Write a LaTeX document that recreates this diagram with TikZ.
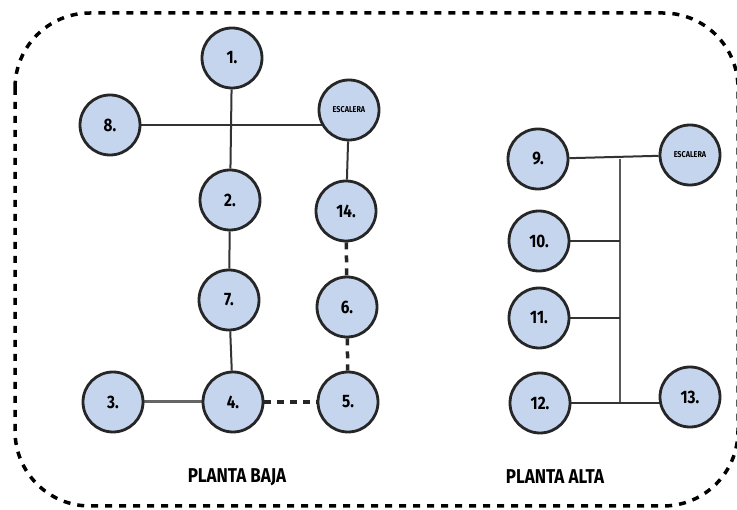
\documentclass[tikz,border=0pt]{standalone}
\usepackage{fontspec}
\setmainfont{Fira Sans}[FakeStretch=0.85]
\usetikzlibrary{backgrounds}
\definecolor{roomblue}{RGB}{197,213,238}

\begin{document}
\begin{tikzpicture}[x=1pt,y=-1pt,
  room/.style={circle,draw=black!85,line width=2.8pt,fill=roomblue,
    minimum size=60pt,inner sep=0pt,font=\fontsize{18}{18}\selectfont\bfseries},
  stair/.style={room,font=\fontsize{8.5}{8.5}\selectfont\bfseries},
  link/.style={draw=black!80,line width=2pt},
  dlink/.style={draw=black!85,line width=3.5pt,dash pattern=on 7pt off 6pt},
  title/.style={font=\fontsize{20}{20}\selectfont\bfseries}]
\useasboundingbox (0,0) rectangle (737,510);

% outer frame
\draw[line width=3.5pt,dash pattern=on 7pt off 7pt,rounded corners=75pt]
  (15,13) rectangle (738,506);

% planta baja
\node[room] (n1) at (232,58) {1.};
\node[room] (n8) at (110,125) {8.};
\node[stair] (esc1) at (349,110) {ESCALERA};
\node[room] (n2) at (230,200) {2.};
\node[room] (n14) at (346,211) {14.};
\node[room] (n7) at (229,300) {7.};
\node[room] (n6) at (347,307) {6.};
\node[room] (n3) at (113,402) {3.};
\node[room] (n4) at (233,402) {4.};
\node[room] (n5) at (348,402) {5.};

% planta alta
\node[room] (n9) at (538,159) {9.};
\node[stair] (esc2) at (690,155) {ESCALERA};
\node[room] (n10) at (539,241) {10.};
\node[room] (n11) at (539,318) {11.};
\node[room] (n12) at (540,403) {12.};
\node[room] (n13) at (690,397) {13.};
\coordinate (jtop) at (620,159);
\coordinate (jbot) at (620,403);

\node[title] (baja) at (237,477) {PLANTA BAJA};
\node[title] (alta) at (555,477) {PLANTA ALTA};

\begin{scope}[on background layer]
  \draw[link] (n1) -- (n2);
  \draw[link] (n8) -- (n8 -| esc1);
  \draw[link] (esc1) -- (n14);
  \draw[link] (n2) -- (n7);
  \draw[link] (n7) -- (n4);
  \draw[link,draw=black!60,line width=3pt] (n3) -- (n4);
  \draw[link] (n9) -- (esc2);
  \draw[link,draw=black!65,line width=2.5pt] (jtop) -- (jbot);
  \draw[link] (n10) -- (n10 -| jtop);
  \draw[link] (n11) -- (n11 -| jtop);
  \draw[link] (n12) -- (n12 -| n13);
\end{scope}

\draw[dlink] (n4) -- (n5);
\draw[dlink] (n14) -- (n6);
\draw[dlink] (n6) -- (n5);

\end{tikzpicture}
\end{document}
